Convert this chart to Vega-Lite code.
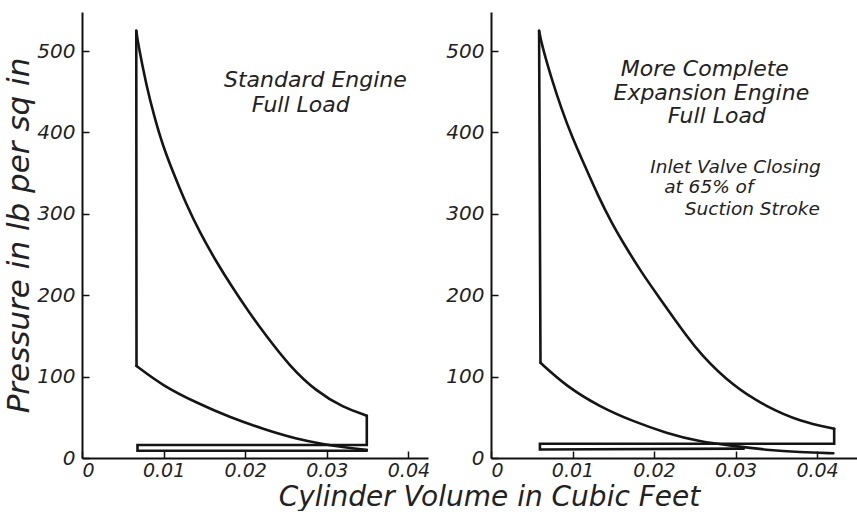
{
  "$schema": "https://vega.github.io/schema/vega-lite/v6.json",
  "background": "white",
  "padding": {"left": 3, "top": 12, "right": 0, "bottom": 0},
  "spacing": 63,
  "bounds": "flush",
  "config": {
    "view": {"stroke": null},
    "axis": {
      "grid": false,
      "labelFont": "DejaVu Sans",
      "labelFontStyle": "italic",
      "labelFontWeight": "normal",
      "labelFontSize": 20,
      "labelColor": "#222222",
      "titleFont": "DejaVu Sans",
      "titleFontStyle": "italic",
      "titleFontWeight": "normal",
      "titleColor": "#222222",
      "domainColor": "#111111",
      "domainWidth": 2,
      "tickColor": "#111111",
      "tickWidth": 1.5,
      "tickSize": -7
    },
    "axisX": {"labelPadding": 10, "labelFontSize": 19, "titleFontSize": 28},
    "axisY": {"labelPadding": 14, "titleFontSize": 31},
    "text": {"font": "DejaVu Sans", "fontStyle": "italic", "fontWeight": "normal", "color": "#222222"}
  },
  "datasets": {
    "standard": [
      {"seg": "combustion", "ord": 1, "v": 0.00668, "p": 113},
      {"seg": "combustion", "ord": 2, "v": 0.00665, "p": 525},
      {"seg": "expansion", "ord": 1, "v": 0.00665, "p": 525},
      {"seg": "expansion", "ord": 2, "v": 0.00685, "p": 510},
      {"seg": "expansion", "ord": 3, "v": 0.0079, "p": 457},
      {"seg": "expansion", "ord": 4, "v": 0.0089, "p": 418},
      {"seg": "expansion", "ord": 5, "v": 0.0099, "p": 384},
      {"seg": "expansion", "ord": 6, "v": 0.0112, "p": 350},
      {"seg": "expansion", "ord": 7, "v": 0.0128, "p": 311},
      {"seg": "expansion", "ord": 8, "v": 0.0144, "p": 278},
      {"seg": "expansion", "ord": 9, "v": 0.0164, "p": 242},
      {"seg": "expansion", "ord": 10, "v": 0.0184, "p": 210},
      {"seg": "expansion", "ord": 11, "v": 0.0204, "p": 180},
      {"seg": "expansion", "ord": 12, "v": 0.0222, "p": 155},
      {"seg": "expansion", "ord": 13, "v": 0.0255, "p": 112},
      {"seg": "expansion", "ord": 14, "v": 0.0287, "p": 82},
      {"seg": "expansion", "ord": 15, "v": 0.032, "p": 62},
      {"seg": "expansion", "ord": 16, "v": 0.0349, "p": 52},
      {"seg": "exhaust", "ord": 1, "v": 0.0349, "p": 52},
      {"seg": "exhaust", "ord": 2, "v": 0.0349, "p": 16},
      {"seg": "exhaust", "ord": 3, "v": 0.0068, "p": 16},
      {"seg": "exhaust", "ord": 4, "v": 0.0068, "p": 9},
      {"seg": "exhaust", "ord": 5, "v": 0.0349, "p": 9},
      {"seg": "compression", "ord": 1, "v": 0.00668, "p": 113},
      {"seg": "compression", "ord": 2, "v": 0.0099, "p": 88.7},
      {"seg": "compression", "ord": 3, "v": 0.014, "p": 68},
      {"seg": "compression", "ord": 4, "v": 0.0181, "p": 50},
      {"seg": "compression", "ord": 5, "v": 0.0222, "p": 35.6},
      {"seg": "compression", "ord": 6, "v": 0.0263, "p": 23.3},
      {"seg": "compression", "ord": 7, "v": 0.0296, "p": 17},
      {"seg": "compression", "ord": 8, "v": 0.0325, "p": 12.5},
      {"seg": "compression", "ord": 9, "v": 0.0349, "p": 10}
    ],
    "complete": [
      {"seg": "combustion", "ord": 1, "v": 0.00607, "p": 117},
      {"seg": "combustion", "ord": 2, "v": 0.0059, "p": 525},
      {"seg": "expansion", "ord": 1, "v": 0.0059, "p": 525},
      {"seg": "expansion", "ord": 2, "v": 0.0062, "p": 509},
      {"seg": "expansion", "ord": 3, "v": 0.00742, "p": 466},
      {"seg": "expansion", "ord": 4, "v": 0.00865, "p": 429},
      {"seg": "expansion", "ord": 5, "v": 0.00988, "p": 396},
      {"seg": "expansion", "ord": 6, "v": 0.01151, "p": 359},
      {"seg": "expansion", "ord": 7, "v": 0.01314, "p": 322},
      {"seg": "expansion", "ord": 8, "v": 0.01479, "p": 289},
      {"seg": "expansion", "ord": 9, "v": 0.01642, "p": 261},
      {"seg": "expansion", "ord": 10, "v": 0.01847, "p": 228},
      {"seg": "expansion", "ord": 11, "v": 0.0205, "p": 199},
      {"seg": "expansion", "ord": 12, "v": 0.02255, "p": 170},
      {"seg": "expansion", "ord": 13, "v": 0.02378, "p": 153},
      {"seg": "expansion", "ord": 14, "v": 0.02565, "p": 128},
      {"seg": "expansion", "ord": 15, "v": 0.02971, "p": 88},
      {"seg": "expansion", "ord": 16, "v": 0.0338, "p": 63},
      {"seg": "expansion", "ord": 17, "v": 0.0379, "p": 45},
      {"seg": "expansion", "ord": 18, "v": 0.0421, "p": 36},
      {"seg": "exhaust", "ord": 1, "v": 0.0421, "p": 36},
      {"seg": "exhaust", "ord": 2, "v": 0.0421, "p": 17.5},
      {"seg": "exhaust", "ord": 3, "v": 0.006, "p": 17.5},
      {"seg": "exhaust", "ord": 4, "v": 0.006, "p": 10.5},
      {"seg": "exhaust", "ord": 5, "v": 0.031, "p": 11.5},
      {"seg": "compression", "ord": 1, "v": 0.00607, "p": 117},
      {"seg": "compression", "ord": 2, "v": 0.00926, "p": 88},
      {"seg": "compression", "ord": 3, "v": 0.01335, "p": 63},
      {"seg": "compression", "ord": 4, "v": 0.01744, "p": 45},
      {"seg": "compression", "ord": 5, "v": 0.02153, "p": 30.5},
      {"seg": "compression", "ord": 6, "v": 0.02562, "p": 20},
      {"seg": "compression", "ord": 7, "v": 0.0297, "p": 14.8},
      {"seg": "compression", "ord": 8, "v": 0.0338, "p": 9.9},
      {"seg": "compression", "ord": 9, "v": 0.0379, "p": 7},
      {"seg": "compression", "ord": 10, "v": 0.042, "p": 5.8}
    ]
  },
  "hconcat": [
    {
      "width": 346,
      "height": 446,
      "layer": [
        {
          "data": {"name": "standard"},
          "transform": [{"filter": "datum.seg == 'expansion' || datum.seg == 'compression'"}],
          "mark": {"type": "line", "interpolate": "basis", "color": "#151515", "strokeWidth": 2.6, "strokeCap": "round"},
          "encoding": {
            "x": {"field": "v", "type": "quantitative", "scale": {"domain": [0, 0.0424], "nice": false, "zero": true},
                  "axis": {"values": [0, 0.01, 0.02, 0.03, 0.04], "format": "~g", "title": "Cylinder Volume in Cubic Feet",
                           "titleX": 407, "titleY": 39, "titleAlign": "center", "titleBaseline": "middle"}},
            "y": {"field": "p", "type": "quantitative", "scale": {"domain": [0, 548], "nice": false},
                  "axis": {"values": [0, 100, 200, 300, 400, 500], "title": "Pressure in lb per sq in", "titlePadding": 1}},
            "detail": {"field": "seg"}
          }
        },
        {
          "data": {"name": "standard"},
          "transform": [{"filter": "datum.seg == 'combustion' || datum.seg == 'exhaust'"}],
          "mark": {"type": "line", "interpolate": "linear", "color": "#151515", "strokeWidth": 2.6, "strokeCap": "round", "strokeJoin": "miter"},
          "encoding": {
            "x": {"field": "v", "type": "quantitative"},
            "y": {"field": "p", "type": "quantitative"},
            "detail": {"field": "seg"},
            "order": {"field": "ord", "type": "quantitative"}
          }
        },
        {
          "data": {"values": [{"note": "Standard Engine"}]},
          "mark": {"type": "text", "fontSize": 22, "align": "center", "baseline": "middle"},
          "encoding": {"x": {"datum": 0.0286}, "y": {"datum": 465}, "text": {"field": "note"}}
        },
        {
          "data": {"values": [{"note": "Full Load"}]},
          "mark": {"type": "text", "fontSize": 22, "align": "center", "baseline": "middle"},
          "encoding": {"x": {"datum": 0.0268}, "y": {"datum": 434}, "text": {"field": "note"}}
        }
      ]
    },
    {
      "width": 366,
      "height": 446,
      "layer": [
        {
          "data": {"name": "complete"},
          "transform": [{"filter": "datum.seg == 'expansion' || datum.seg == 'compression'"}],
          "mark": {"type": "line", "interpolate": "basis", "color": "#151515", "strokeWidth": 2.6, "strokeCap": "round"},
          "encoding": {
            "x": {"field": "v", "type": "quantitative", "scale": {"domain": [0, 0.0449], "nice": false, "zero": true},
                  "axis": {"values": [0, 0.01, 0.02, 0.03, 0.04], "format": "~g", "title": null}},
            "y": {"field": "p", "type": "quantitative", "scale": {"domain": [0, 548], "nice": false},
                  "axis": {"values": [0, 100, 200, 300, 400, 500], "title": null}},
            "detail": {"field": "seg"}
          }
        },
        {
          "data": {"name": "complete"},
          "transform": [{"filter": "datum.seg == 'combustion' || datum.seg == 'exhaust'"}],
          "mark": {"type": "line", "interpolate": "linear", "color": "#151515", "strokeWidth": 2.6, "strokeCap": "round", "strokeJoin": "miter"},
          "encoding": {
            "x": {"field": "v", "type": "quantitative"},
            "y": {"field": "p", "type": "quantitative"},
            "detail": {"field": "seg"},
            "order": {"field": "ord", "type": "quantitative"}
          }
        },
        {
          "data": {"values": [{"note": "More Complete"}]},
          "mark": {"type": "text", "fontSize": 22, "align": "center", "baseline": "middle"},
          "encoding": {"x": {"datum": 0.02623}, "y": {"datum": 478}, "text": {"field": "note"}}
        },
        {
          "data": {"values": [{"note": "Expansion Engine"}]},
          "mark": {"type": "text", "fontSize": 22, "align": "center", "baseline": "middle"},
          "encoding": {"x": {"datum": 0.02703}, "y": {"datum": 449}, "text": {"field": "note"}}
        },
        {
          "data": {"values": [{"note": "Full Load"}]},
          "mark": {"type": "text", "fontSize": 22, "align": "center", "baseline": "middle"},
          "encoding": {"x": {"datum": 0.0277}, "y": {"datum": 420.5}, "text": {"field": "note"}}
        },
        {
          "data": {"values": [{"note": "Inlet Valve Closing"}]},
          "mark": {"type": "text", "fontSize": 18.5, "align": "center", "baseline": "middle"},
          "encoding": {"x": {"datum": 0.03}, "y": {"datum": 358}, "text": {"field": "note"}}
        },
        {
          "data": {"values": [{"note": "at 65% of"}]},
          "mark": {"type": "text", "fontSize": 18.5, "align": "center", "baseline": "middle"},
          "encoding": {"x": {"datum": 0.02672}, "y": {"datum": 333}, "text": {"field": "note"}}
        },
        {
          "data": {"values": [{"note": "Suction Stroke"}]},
          "mark": {"type": "text", "fontSize": 18.5, "align": "center", "baseline": "middle"},
          "encoding": {"x": {"datum": 0.03206}, "y": {"datum": 306}, "text": {"field": "note"}}
        }
      ]
    }
  ]
}
